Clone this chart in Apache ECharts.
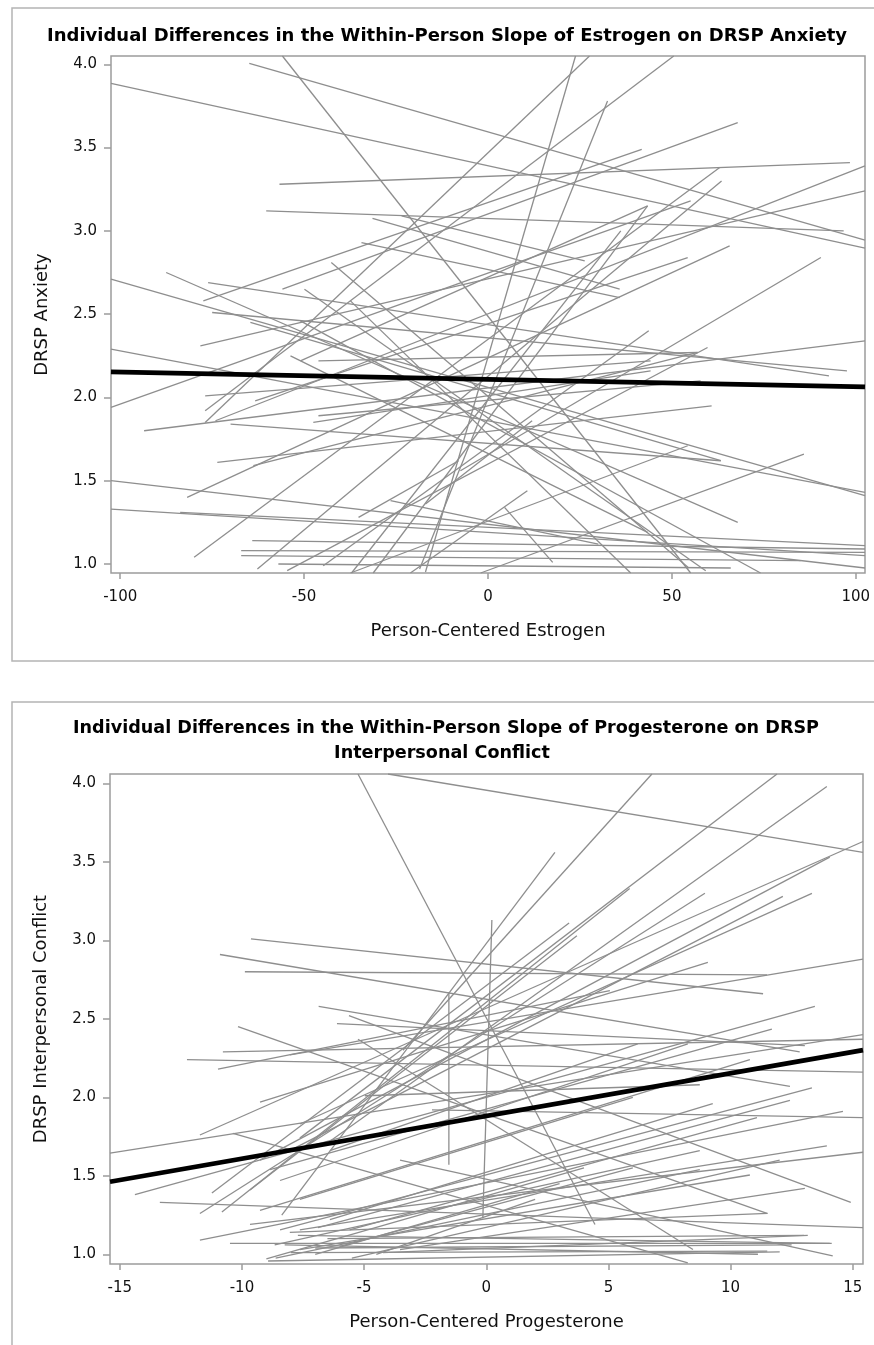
<!DOCTYPE html>
<html><head><meta charset="utf-8">
<script src="https://cdn.jsdelivr.net/npm/echarts/dist/echarts.min.js"></script>
<style>html,body{margin:0;padding:0;background:#fff}#c{width:874px;height:1345px}</style>
</head><body><div id="c"></div><script>
// ---------- Panel 1: Estrogen -> DRSP Anxiety ----------
const estrogenXRange = [-102.5, 102.5];
const estrogenYRange = [0.946, 4.05];
const estrogenXTicks = [-100, -50, 0, 50, 100];
const estrogenYTicks = [1.0, 1.5, 2.0, 2.5, 3.0, 3.5, 4.0];
// each person: [x1, y1, x2, y2]
const estrogenRising = [
  [-17.0,0.952,23.8,4.05],[-18.6,0.97,32.5,3.78],[-76.9,1.85,27.6,4.05],[-76.9,1.92,50.5,4.05],
  [-77.4,2.58,41.8,3.49],[-55.9,2.65,67.9,3.65],[-79.9,1.04,63.0,3.38],[-74.1,1.86,102.5,3.39],
  [-78.2,2.31,102.5,3.24],[-31.2,0.946,43.4,3.15],[-37.1,0.946,36.1,3.00],[-63.3,1.98,54.3,2.84],
  [-81.8,1.40,65.7,2.91],[-7.5,1.56,90.5,2.84],[-2.0,0.946,85.9,1.66],[-37.4,0.946,54.3,1.71],
  [-73.6,1.61,60.8,1.95],[-63.8,1.59,57.0,2.27],[-21.1,0.946,10.7,1.44],[-62.7,0.97,63.5,3.30],
  [-54.6,0.96,59.7,2.30],[-44.8,0.99,43.7,2.40],[-93.5,1.80,102.5,2.34],[-102.5,1.94,55.1,3.18],
  [-46.1,2.22,57.0,2.27],[-76.9,2.01,44.2,2.22],[-47.5,1.85,44.2,2.16],[-46.1,1.89,57.8,2.10],
  [-56.7,3.28,98.4,3.41],[-51.0,2.22,43.4,3.15],[-35.2,1.28,-8.0,1.62],[-17.0,1.36,12.0,1.86]
];
const estrogenFalling = [
  [-102.5,3.885,102.5,2.896],[-64.9,4.005,102.5,2.944],[-55.9,4.05,55.1,0.946],[-60.3,3.12,96.7,3.00],
  [-23.5,3.09,26.3,2.82],[-31.4,3.075,35.8,2.65],[-102.5,2.71,102.5,1.41],[-102.5,2.29,102.5,1.43],
  [-87.5,2.75,67.9,1.25],[-64.6,2.45,63.3,1.62],[-76.1,2.69,92.7,2.13],[-75.0,2.51,97.6,2.16],
  [-49.9,2.65,59.2,0.96],[-42.6,2.81,54.6,0.976],[-53.7,2.25,43.4,1.19],[4.5,1.34,17.6,1.01],
  [-102.5,1.50,102.5,0.976],[-102.5,1.33,102.5,1.05],[-83.7,1.31,102.5,1.11],[-64.1,1.14,102.5,1.09],
  [-67.1,1.08,102.5,1.07],[-67.1,1.05,85.0,1.02],[-57.0,1.00,66.0,0.976],[-37.4,2.58,38.8,0.946],
  [-51.0,2.46,74.1,0.946],[-70.0,1.84,63.3,1.62],[-34.4,2.93,35.8,2.60],[-26.5,1.38,30.0,1.12]
];
const estrogenMean = [[-102.5, 2.154], [102.5, 2.064]];

// ---------- Panel 2: Progesterone -> DRSP Interpersonal Conflict ----------
const progXRange = [-15.4, 15.42];
const progYRange = [0.938, 4.06];
const progXTicks = [-15, -10, -5, 0, 5, 10, 15];
const progYTicks = [1.0, 1.5, 2.0, 2.5, 3.0, 3.5, 4.0];
const progRising = [
  [-8.04,2.27,15.42,2.88],[-10.98,2.18,5.06,2.68],[-9.26,1.97,9.07,2.86],[-15.4,1.645,15.42,2.40],
  [-10.78,2.29,15.42,2.37],[-14.38,1.38,13.45,2.58],[-11.72,1.26,8.95,3.30],[-10.82,1.27,5.87,3.33],
  [-11.23,1.39,3.39,3.11],[-8.37,1.25,2.81,3.56],[-8.04,1.14,11.52,1.26],[-8.93,0.957,12.01,1.015],
  [-8.62,0.976,8.74,1.54],[-3.41,2.30,6.78,4.06],[-7.63,1.74,11.9,4.06],[-6.4,1.72,13.94,3.98],
  [-11.72,1.76,15.42,3.63],[-9.26,1.60,14.06,3.53],[-7.63,1.83,13.33,3.30],[-8.04,1.66,12.14,3.28],
  [-9.67,1.41,3.71,3.03],[-9.67,1.19,15.42,1.65],[-7.63,1.155,13.94,1.69],[-3.53,1.03,13.04,1.42],
  [-7.63,1.03,10.79,1.505],[-11.72,1.09,14.6,1.91],[-8.44,1.155,13.33,2.06],[-5.59,1.155,11.08,1.87],
  [-6.4,1.22,9.27,1.96],[-7.63,1.35,6.0,2.0],[-9.26,1.28,10.79,2.24],[-8.44,1.47,8.25,2.34],
  [-6.4,1.66,6.2,2.34],[-8.85,1.54,11.69,2.435],[-4.97,2.01,8.74,2.08],[-6.89,1.17,12.43,1.98],
  [-8.66,1.06,8.74,1.66],[-5.5,0.976,12.01,1.60],[-4.23,1.01,13.16,1.12],
  [-9.0,0.97,4.0,1.55],[-7.0,1.0,3.0,1.45],[-6.0,1.05,6.0,1.55],[-4.5,1.0,2.0,1.35]
];
const progFalling = [
  [-5.25,4.06,4.45,1.19],[-4.02,4.06,15.42,3.56],[-9.63,3.01,11.33,2.66],[-10.9,2.91,12.83,2.29],
  [-9.88,2.80,11.49,2.78],[-6.86,2.58,12.43,2.07],[-5.62,2.52,14.92,1.33],[-6.11,2.47,13.04,2.33],
  [-10.16,2.45,11.49,1.26],[-12.25,2.24,15.42,2.16],[-10.37,1.77,8.25,0.945],[-13.36,1.33,15.42,1.17],
  [-10.49,1.07,14.14,1.07],[-5.25,2.37,8.46,1.03],[-2.22,1.92,15.42,1.87],[-7.71,1.12,14.06,1.07],
  [-8.25,1.06,11.12,1.0],[-1.53,2.67,-1.53,1.57],[0.23,3.13,-0.14,1.23],[-3.53,1.6,14.18,0.99],
  [-8.0,1.01,11.5,1.02],[-7.0,1.04,12.5,1.06],[-6.5,1.10,13.0,1.12]
];
const progMean = [[-15.4, 1.462], [15.42, 2.30]];

// ---------- build ----------
const GRAY = '#8e8e8e', FRAME = '#9c9c9c';
const FONT = '"DejaVu Sans", "Liberation Sans", sans-serif';
function segSeries(list, idx) {
  return list.map(s => ({
    type: 'line', xAxisIndex: idx, yAxisIndex: idx, data: [[s[0], s[1]], [s[2], s[3]]],
    symbol: 'none', silent: true, clip: true, animation: false,
    lineStyle: { color: GRAY, width: 1.3 }, z: 2
  }));
}
function meanSeries(pts, idx) {
  return { type: 'line', xAxisIndex: idx, yAxisIndex: idx, data: pts, symbol: 'none', silent: true,
    clip: true, animation: false, lineStyle: { color: '#000', width: 4.8 }, z: 5 };
}
function xAxis(idx, range, ticks, name) {
  return { type: 'value', gridIndex: idx, min: range[0], max: range[1], name, nameLocation: 'middle', nameGap: 49,
    nameTextStyle: { fontFamily: FONT, fontSize: 18, color: '#111' },
    axisLine: { show: false, onZero: false }, splitLine: { show: false },
    axisTick: { show: true, length: 6, lineStyle: { color: FRAME, width: 1.5 }, customValues: ticks },
    axisLabel: { customValues: ticks, margin: 17, fontFamily: FONT, fontSize: 15, color: '#111', formatter: v => String(Math.round(v)) } };
}
function yAxis(idx, range, ticks, name) {
  return { type: 'value', gridIndex: idx, min: range[0], max: range[1], name, nameLocation: 'middle', nameGap: 60,
    nameTextStyle: { fontFamily: FONT, fontSize: 18, color: '#111' },
    axisLine: { show: false, onZero: false }, splitLine: { show: false },
    axisTick: { show: true, length: 7, lineStyle: { color: FRAME, width: 1.5 }, customValues: ticks },
    axisLabel: { customValues: ticks, margin: 14, fontFamily: FONT, fontSize: 15, color: '#111', formatter: v => v.toFixed(1) } };
}
const chart = echarts.init(document.getElementById('c'), null, { renderer: 'canvas' });
chart.setOption({
  animation: false,
  backgroundColor: '#fff',
  grid: [
    { left: 111, top: 56, width: 754, height: 517, show: true, borderColor: FRAME, borderWidth: 1.5, backgroundColor: 'transparent' },
    { left: 110, top: 774, width: 753, height: 490, show: true, borderColor: FRAME, borderWidth: 1.5, backgroundColor: 'transparent' }
  ],
  xAxis: [
    xAxis(0, estrogenXRange, estrogenXTicks, 'Person-Centered Estrogen'),
    xAxis(1, progXRange, progXTicks, 'Person-Centered Progesterone')
  ],
  yAxis: [
    yAxis(0, estrogenYRange, estrogenYTicks, 'DRSP Anxiety'),
    yAxis(1, progYRange, progYTicks, 'DRSP Interpersonal Conflict')
  ],
  graphic: [
    { type: 'rect', shape: { x: 12, y: 8, width: 880, height: 653 }, style: { fill: 'none', stroke: '#b4b4b4', lineWidth: 1.5 }, silent: true },
    { type: 'rect', shape: { x: 12, y: 702, width: 880, height: 700 }, style: { fill: 'none', stroke: '#b4b4b4', lineWidth: 1.5 }, silent: true },
    { type: 'text', x: 447, y: 36, style: { text: 'Individual Differences in the Within-Person Slope of Estrogen on DRSP Anxiety', textAlign: 'center', textVerticalAlign: 'middle', font: 'bold 18px ' + FONT, fill: '#000' }, silent: true },
    { type: 'text', x: 446, y: 728, style: { text: 'Individual Differences in the Within-Person Slope of Progesterone on DRSP', textAlign: 'center', textVerticalAlign: 'middle', font: 'bold 17.6px ' + FONT, fill: '#000' }, silent: true },
    { type: 'text', x: 442, y: 753, style: { text: 'Interpersonal Conflict', textAlign: 'center', textVerticalAlign: 'middle', font: 'bold 17.6px ' + FONT, fill: '#000' }, silent: true }
  ],
  series: [].concat(
    segSeries(estrogenRising, 0), segSeries(estrogenFalling, 0), [meanSeries(estrogenMean, 0)],
    segSeries(progRising, 1), segSeries(progFalling, 1), [meanSeries(progMean, 1)]
  )
});
</script></body></html>
